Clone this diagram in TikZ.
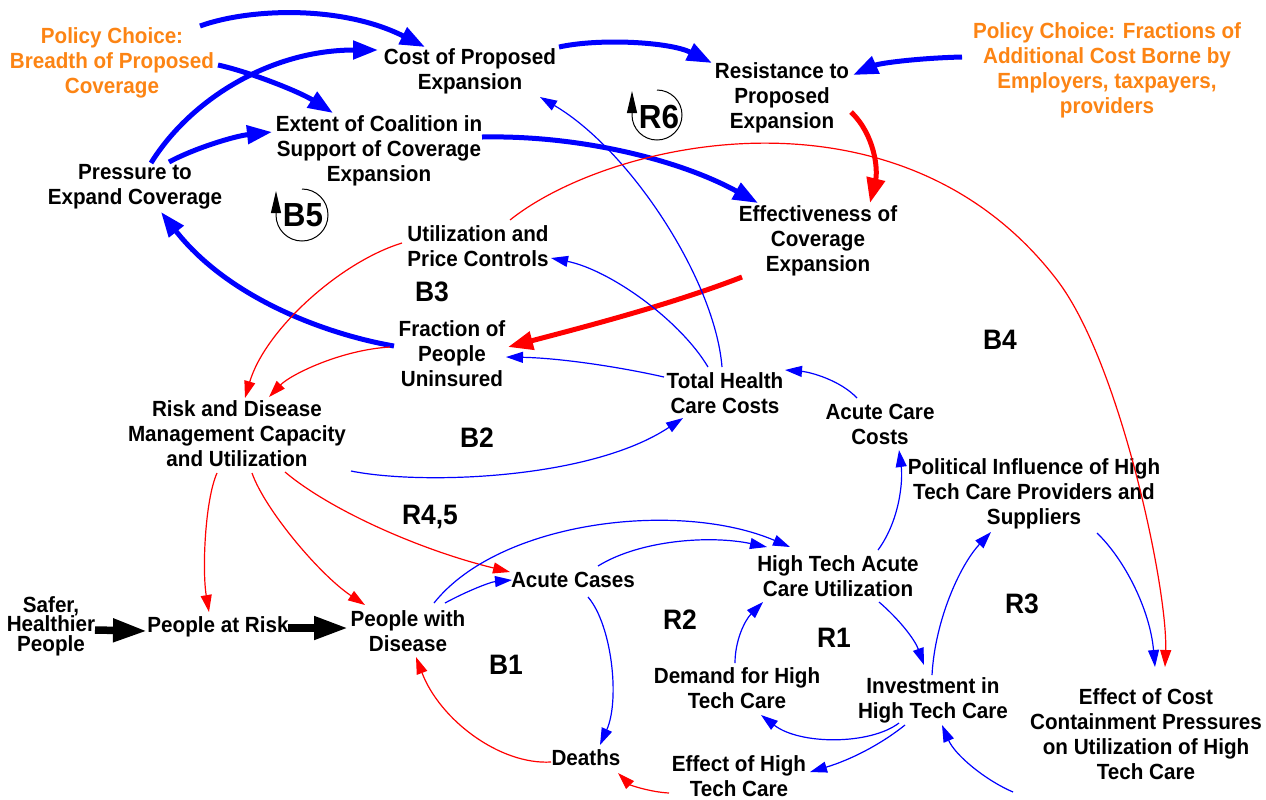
\documentclass[tikz,border=0pt]{standalone}
\usepackage{fontspec}
\setmainfont{Liberation Sans}[FakeStretch=0.94]
\usetikzlibrary{arrows.meta,calc}
\definecolor{polorange}{RGB}{252,132,20}
\definecolor{lblue}{RGB}{0,0,255}
\definecolor{lred}{RGB}{255,0,0}
\newcommand{\vfnt}{\fontsize{12.5pt}{14.2pt}\selectfont\bfseries}
\newcommand{\sfnt}{\fontsize{12.5pt}{11pt}\selectfont\bfseries\lineskiplimit=-100pt}
\newcommand{\lfnt}{\fontsize{16pt}{16pt}\selectfont\bfseries}
\newcommand{\cfnt}{\fontsize{19pt}{19pt}\selectfont\bfseries}
\tikzset{
  var/.style={font=\vfnt, align=center, inner sep=0pt},
  pol/.style={var, text=polorange},
  loopl/.style={font=\lfnt, inner sep=0pt},
  cloopl/.style={font=\cfnt, inner sep=0pt},
  thickb/.style={draw=lblue, line width=0.1cm, -{Triangle[length=0.5cm,width=0.36cm]}},
  thickr/.style={draw=lred, line width=0.1cm, -{Triangle[length=0.5cm,width=0.36cm]}},
  thinb/.style={draw=lblue, line width=0.024cm, -{Triangle[length=0.34cm,width=0.22cm]}},
  thinr/.style={draw=lred, line width=0.024cm, -{Triangle[length=0.34cm,width=0.22cm]}},
  flow/.style={draw=black, line width=0.15cm, -{Triangle[length=0.68cm,width=0.44cm]}},
  circarr/.style={draw=black, line width=0.02cm, -{Triangle[length=0.44cm,width=0.2cm]}},
}
\begin{document}
\begin{tikzpicture}[x=0.02cm,y=-0.02cm]
\useasboundingbox (0,0) rectangle (1266,799);
% variables
\node[pol] (pol1) at (112,63) {Policy Choice:\\Breadth of Proposed\\Coverage};
\node[var] (cost) at (470,71) {Cost of Proposed\\Expansion};
\node[var] (resist) at (782,98) {Resistance to\\Proposed\\Expansion};
\node[pol] (pol2) at (1107,70) {Policy Choice: Fractions of\\Additional Cost Borne by\\Employers, taxpayers,\\providers};
\node[var] (extent) at (379,151) {Extent of Coalition in\\Support of Coverage\\Expansion};
\node[var] (pressure) at (135,187) {Pressure to\\Expand Coverage};
\node[var] (effect) at (818,241) {Effectiveness of\\Coverage\\Expansion};
\node[var] (util) at (478,246) {Utilization and\\Price Controls};
\node[var] (frac) at (452,354) {Fraction of\\People\\Uninsured};
\node[var] (total) at (725,393) {Total Health\\Care Costs};
\node[var] (acc) at (880,424) {Acute Care\\Costs};
\node[var] (risk) at (237,434) {Risk and Disease\\Management Capacity\\and Utilization};
\node[var] (polinf) at (1034,494) {Political Influence of High\\Tech Care Providers and\\Suppliers};
\node[var] (acute) at (573,580) {Acute Cases};
\node[var] (htu) at (838,576) {High Tech Acute\\Care Utilization};
\node[var, font=\sfnt] (safer) at (51,626) {Safer,\\Healthier\\People};
\node[var] (par) at (218,627) {People at Risk};
\node[var] (pwd) at (408,631) {People with\\Disease};
\node[var] (demand) at (737,688) {Demand for High\\Tech Care};
\node[var] (invest) at (933,700) {Investment in\\High Tech Care};
\node[var] (ecc) at (1146,734) {Effect of Cost\\Containment Pressures\\on Utilization of High\\Tech Care};
\node[var] (deaths) at (586,758) {Deaths};
\node[var] (eht) at (739,776) {Effect of High\\Tech Care};
% loop labels
\node[loopl] (b3) at (432,292) {B3};
\node[loopl] (b2) at (477,438) {B2};
\node[loopl] (r45) at (430,517) {R4,5};
\node[loopl] (b4) at (1000,340) {B4};
\node[loopl] (r2) at (680,620) {R2};
\node[loopl] (r1) at (834,638) {R1};
\node[loopl] (r3) at (1022,604) {R3};
\node[loopl] (b1) at (506,665) {B1};
\node[cloopl] (b5) at (303,215) {B5};
\node[cloopl] (r6) at (659,117) {R6};
\draw[circarr] ($(b5)+(-1,-26)$) arc[start angle=-90, end angle=180, radius=26] -- ++(0,-24);
\draw[circarr] ($(r6)+(-2,-27)$) arc[start angle=-90, end angle=180, radius=25] -- ++(0,-24);
% thick links
\draw[thickb] ($(pol1)+(88,-37)$) .. controls (250,8) and (342,5) .. ($(cost)+(-45,-24)$);
\draw[thickb] ($(pressure)+(16,-24)$) .. controls (190,100) and (270,50) .. ($(cost)+(-92,-21)$);
\draw[thickb] ($(pol1)+(106,2)$) .. controls (250,72) and (300,92) .. ($(extent)+(-46,-38)$);
\draw[thickb] ($(pressure)+(34,-25)$) .. controls (195,148) and (235,136) .. ($(extent)+(-107,-19)$);
\draw[thickb] ($(cost)+(89,-24)$) .. controls (600,38) and (670,42) .. ($(resist)+(-70,-35)$);
\draw[thickb] ($(pol2)+(-145,-13)$) .. controls (920,58) and (880,63) .. ($(resist)+(71,-23)$);
\draw[thickr] ($(resist)+(69,14)$) .. controls (875,135) and (878,170) .. ($(effect)+(52,-38)$);
\draw[thickb] ($(extent)+(103,-14)$) .. controls (580,135) and (680,160) .. ($(effect)+(-60,-38)$);
\draw[thickr] ($(effect)+(-76,36)$) .. controls (670,305) and (580,328) .. ($(frac)+(56,-7)$);
\draw[thickb] ($(frac)+(-58,-8)$) .. controls (330,335) and (230,300) .. ($(pressure)+(26,25)$);
% thin links
\draw[thinb] ($(total)+(-3,-26)$) .. controls (715,280) and (630,150) .. ($(cost)+(70,26)$);
\draw[thinb] ($(total)+(-17,-26)$) .. controls (680,320) and (610,270) .. ($(util)+(73,12)$);
\draw[thinb] ($(total)+(-61,-16)$) .. controls (620,367) and (560,358) .. ($(frac)+(54,3)$);
\draw[thinb] ($(acc)+(-23,-26)$) .. controls (840,380) and (810,372) .. ($(total)+(60,-23)$);
\draw[thinb] ($(htu)+(40,-26)$) .. controls (900,520) and (903,480) .. ($(acc)+(19,26)$);
\draw[thinb] ($(risk)+(114,37)$) .. controls (420,485) and (590,480) .. ($(total)+(-42,25)$);
\draw[thinr] ($(util)+(-76,-3)$) .. controls (340,262) and (265,330) .. ($(risk)+(8,-36)$);
\draw[thinr] ($(frac)+(-62,-7)$) .. controls (340,350) and (290,375) .. ($(risk)+(32,-37)$);
\draw[thinr] ($(util)+(32,-26)$) .. controls (610,140) and (900,75) .. (1057,280) .. controls (1120,362) and (1168,590) .. ($(ecc)+(19,-67)$);
\draw[thinb] ($(polinf)+(63,39)$) .. controls (1125,560) and (1150,610) .. ($(ecc)+(9,-67)$);
\draw[thinr] ($(risk)+(-20,39)$) .. controls (205,500) and (202,570) .. ($(par)+(-9,-15)$);
\draw[thinr] ($(risk)+(15,39)$) .. controls (265,510) and (320,575) .. ($(pwd)+(-43,-26)$);
\draw[thinr] ($(risk)+(48,38)$) .. controls (330,510) and (420,550) .. ($(acute)+(-63,-8)$);
\draw[thinb] ($(pwd)+(37,-28)$) .. controls (465,592) and (490,582) .. ($(acute)+(-61,0)$);
\draw[thinb] ($(pwd)+(26,-28)$) .. controls (500,520) and (680,500) .. ($(htu)+(-48,-29)$);
\draw[thinb] ($(acute)+(25,-14)$) .. controls (640,540) and (710,535) .. ($(htu)+(-71,-29)$);
\draw[thinb] ($(acute)+(15,17)$) .. controls (612,625) and (620,700) .. ($(deaths)+(14,-13)$);
\draw[thinr] ($(deaths)+(-35,4)$) .. controls (500,765) and (440,720) .. ($(pwd)+(8,26)$);
\draw[thinr] ($(eht)+(-70,17)$) .. controls (650,792) and (630,785) .. ($(deaths)+(32,15)$);
\draw[thinb] ($(invest)+(-28,25)$) .. controls (880,745) and (850,760) .. ($(eht)+(71,-4)$);
\draw[thinb] ($(invest)+(-34,23)$) .. controls (870,745) and (800,745) .. ($(demand)+(24,27)$);
\draw[thinb] ($(demand)+(-2,-25)$) .. controls (735,640) and (745,620) .. ($(htu)+(-75,26)$);
\draw[thinb] ($(htu)+(41,26)$) .. controls (900,620) and (915,640) .. ($(invest)+(-9,-35)$);
\draw[thinb] ($(invest)+(-1,-25)$) .. controls (935,620) and (960,565) .. ($(polinf)+(-43,38)$);
\draw[thinb] ($(ecc)+(-133,58)$) .. controls (985,780) and (955,755) .. ($(invest)+(9,25)$);
% flows
\draw[flow] ($(safer)+(44,4)$) -- ($(par)+(-71,4)$);
\draw[flow] ($(par)+(70,1)$) -- ($(pwd)+(-60,-3)$);
\end{tikzpicture}
\end{document}
